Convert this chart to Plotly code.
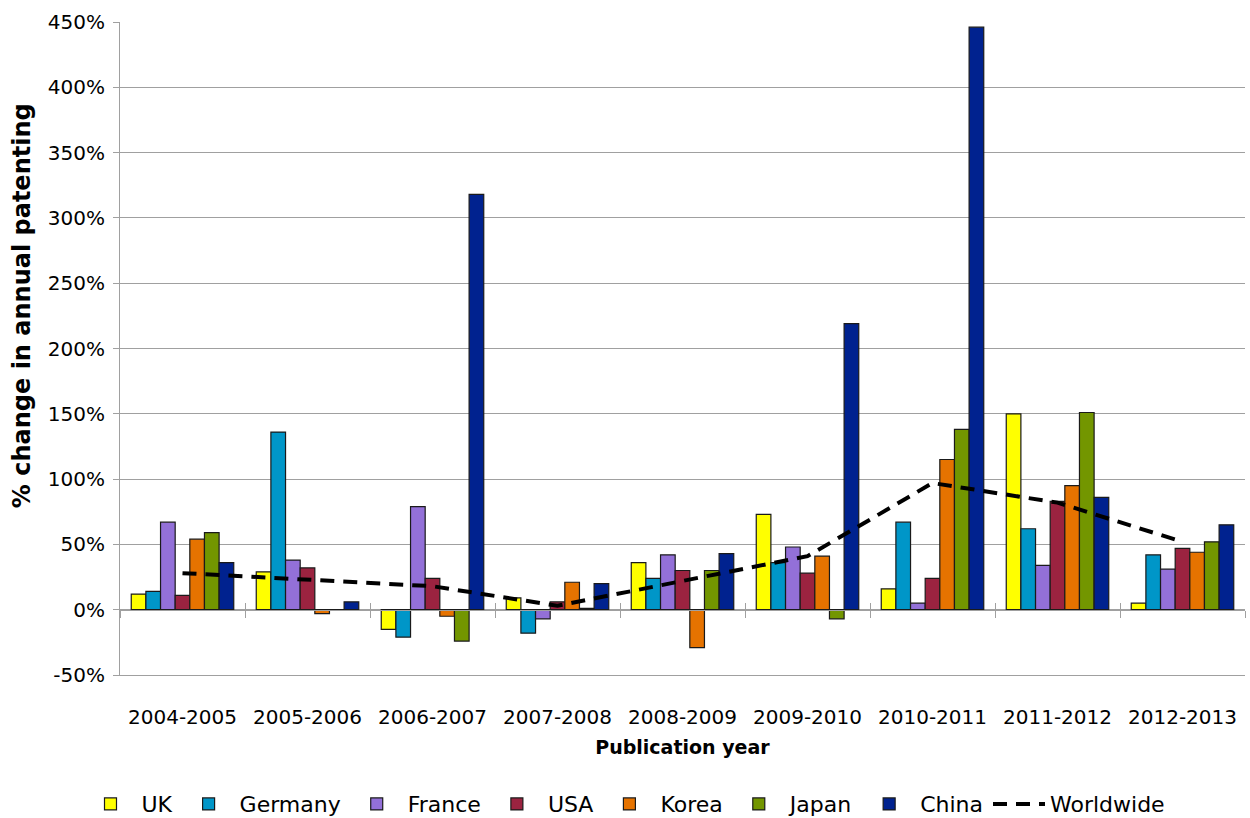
import plotly.graph_objects as go

periods = ["2004-2005", "2005-2006", "2006-2007", "2007-2008", "2008-2009",
           "2009-2010", "2010-2011", "2011-2012", "2012-2013"]

uk = [12, 29, -15, 9, 36, 73, 16, 150, 5]
germany = [14, 136, -21, -18, 24, 36, 67, 62, 42]
france = [67, 38, 79, -7, 42, 48, 5, 34, 31]
usa = [11, 32, 24, 6, 30, 28, 24, 83, 47]
korea = [54, -3, -5, 21, -29, 41, 115, 95, 44]
japan = [59, 0, -24, 1, 30, -7, 138, 151, 52]
china = [36, 6, 318, 20, 43, 219, 446, 86, 65]
worldwide = [28, 23, 18, 3, 22, 41, 97, 82, 52]

y_ticks = [-50, 0, 50, 100, 150, 200, 250, 300, 350, 400, 450]
y_tick_text = ["-50%", "0%", "50%", "100%", "150%", "200%", "250%",
               "300%", "350%", "400%", "450%"]

series = [
    ("UK", uk, "#FFFF00"),
    ("Germany", germany, "#0096C8"),
    ("France", france, "#9370D8"),
    ("USA", usa, "#9B2340"),
    ("Korea", korea, "#E67300"),
    ("Japan", japan, "#739600"),
    ("China", china, "#00228F"),
]

FONT = "DejaVu Sans"
GRID = "#A0A0A0"
fig = go.Figure()

for name, vals, color in series:
    fig.add_trace(go.Bar(
        x=periods, y=vals, name=name,
        marker=dict(color=color, line=dict(color="#1a1a1a", width=1.2)),
    ))

fig.add_trace(go.Scatter(
    x=periods, y=worldwide, name="Worldwide",
    mode="lines", line=dict(color="black", width=4, dash="14px,9px"),
))

# invisible helper traces so the category-boundary axes along y=0 get drawn
for ax in ("x2", "x3"):
    fig.add_trace(go.Scatter(
        x=[0], y=[None], xaxis=ax, yaxis="y", mode="markers",
        showlegend=False, hoverinfo="skip",
    ))

y_lo, y_hi = y_ticks[0], y_ticks[-1]
zero_frac = (0 - y_lo) / (y_hi - y_lo)
boundaries = [i - 0.5 for i in range(len(periods) + 1)]

boundary_axis = dict(
    overlaying="x", anchor="free", position=zero_frac, side="bottom",
    range=[-0.5, len(periods) - 0.5], tickmode="array", tickvals=boundaries,
    ticklen=7, tickcolor=GRID, tickwidth=1,
    showticklabels=False, showgrid=False, zeroline=False,
    showline=True, linecolor=GRID, linewidth=1,
)

fig.update_layout(
    width=1250, height=818,
    margin=dict(l=120, r=5, t=22, b=143),
    paper_bgcolor="white", plot_bgcolor="white",
    barmode="group", bargap=0.18, bargroupgap=0,
    font=dict(family=FONT, color="black"),
    showlegend=True,
    legend=dict(
        orientation="h", xref="container", xanchor="center", x=0.5,
        yref="container", yanchor="middle", y=0.017,
        font=dict(family=FONT, size=22), itemwidth=52,
        traceorder="normal",
    ),
    xaxis=dict(
        type="category", categoryorder="array", categoryarray=periods,
        showgrid=False, showline=True, linecolor=GRID, linewidth=1,
        zeroline=False, ticks="",
        tickfont=dict(size=20), ticklabelstandoff=24,
        title=dict(text="<b>Publication year</b>", font=dict(size=19), standoff=12),
    ),
    xaxis2=dict(boundary_axis, ticks="outside"),
    xaxis3=dict(boundary_axis, ticks="inside"),
    yaxis=dict(
        range=[y_lo, y_hi], tickmode="array", tickvals=y_ticks, ticktext=y_tick_text,
        showgrid=True, gridcolor=GRID, gridwidth=1,
        zeroline=False, showline=True, linecolor=GRID, linewidth=1,
        ticks="outside", ticklen=6, tickcolor=GRID,
        tickfont=dict(size=20), ticklabelstandoff=4,
    ),
    annotations=[dict(
        text="<b>% change in annual patenting</b>", textangle=-90,
        xref="paper", yref="paper", x=-0.087, y=0.565,
        xanchor="center", yanchor="middle", showarrow=False,
        font=dict(family=FONT, size=24),
    )],
)

fig.write_html("out.html")
